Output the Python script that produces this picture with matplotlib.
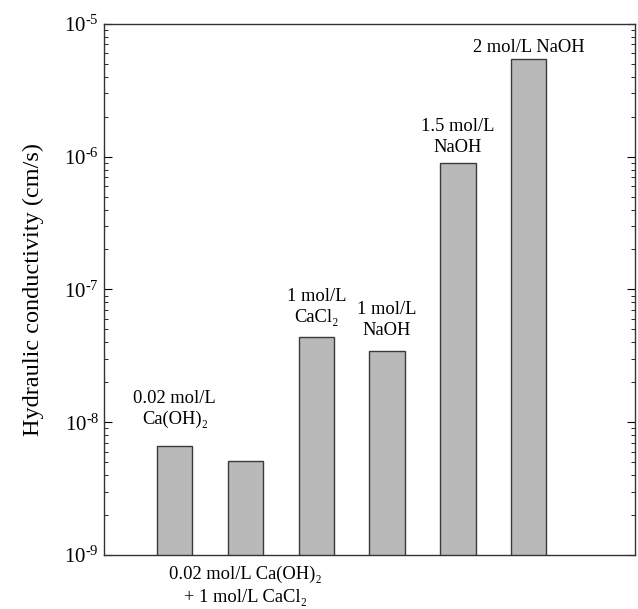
import matplotlib
matplotlib.use('Agg')
import numpy as np
import matplotlib.pyplot as plt
from matplotlib.ticker import LogLocator, FuncFormatter, NullFormatter

plt.rcParams['font.family'] = ['Liberation Serif', 'DejaVu Serif']
plt.rcParams['mathtext.fontset'] = 'custom'
plt.rcParams['mathtext.rm'] = 'Liberation Serif'
plt.rcParams['mathtext.it'] = 'Liberation Serif:italic'

# bar positions and hydraulic conductivity values (cm/s)
positions = [1, 2, 3, 4, 5, 6]
conductivity = [6.5e-9, 5.0e-9, 4.4e-8, 3.4e-8, 9.0e-7, 5.45e-6]
labels = ['0.02 mol/L\nCa(OH)\u2082', '0.02 mol/L Ca(OH)\u2082\n+ 1 mol/L CaCl\u2082',
          '1 mol/L\nCaCl\u2082', '1 mol/L\nNaOH', '1.5 mol/L\nNaOH', '2 mol/L NaOH']
# gap between bar top and label baseline, in points (placed by hand in the original)
label_gap = [16.5, 0, 11, 12, 8, 5]

fig = plt.figure(figsize=(6.38, 6.09), dpi=100)
ax = fig.add_axes([0.163, 0.0887, 0.832, 0.872])

ax.bar(positions, conductivity, width=0.5, bottom=1e-10, color='#b8b9b8',
       edgecolor='#3a3a3a', linewidth=1.0)

ax.set_yscale('log')
ax.set_ylim(1e-9, 1e-5)
ax.set_xlim(0, 7.5)
ax.set_xticks([])

# labels above bars, except the second one which goes under the axis
for i, (x, v, lab) in enumerate(zip(positions, conductivity, labels)):
    if i == 1:
        ax.annotate(lab, xy=(x, 1e-9), xytext=(0, -7.5), textcoords='offset points',
                    ha='center', va='top', fontsize=13.3, linespacing=1.45)
    else:
        ax.annotate(lab, xy=(x, v), xytext=(0, label_gap[i]), textcoords='offset points',
                    ha='center', va='baseline', fontsize=13.3, linespacing=1.27)


def log_label(val, pos):
    e = int(round(np.log10(val)))
    return r'$10^{\text{-}%d}$' % abs(e)


ax.yaxis.set_major_locator(LogLocator(base=10))
ax.yaxis.set_major_formatter(FuncFormatter(log_label))
ax.yaxis.set_minor_locator(LogLocator(base=10, subs=range(2, 10)))
ax.yaxis.set_minor_formatter(NullFormatter())
ax.tick_params(axis='y', which='major', direction='in', length=6, width=0.8,
               right=True, labelsize=15)
ax.tick_params(axis='y', which='minor', direction='in', length=3, width=0.6, right=True)

for s in ax.spines.values():
    s.set_linewidth(1.0)
    s.set_color('#333333')

ax.set_ylabel('Hydraulic conductivity (cm/s)', fontsize=17.5, labelpad=15)

fig.savefig('out.png', dpi=100)
